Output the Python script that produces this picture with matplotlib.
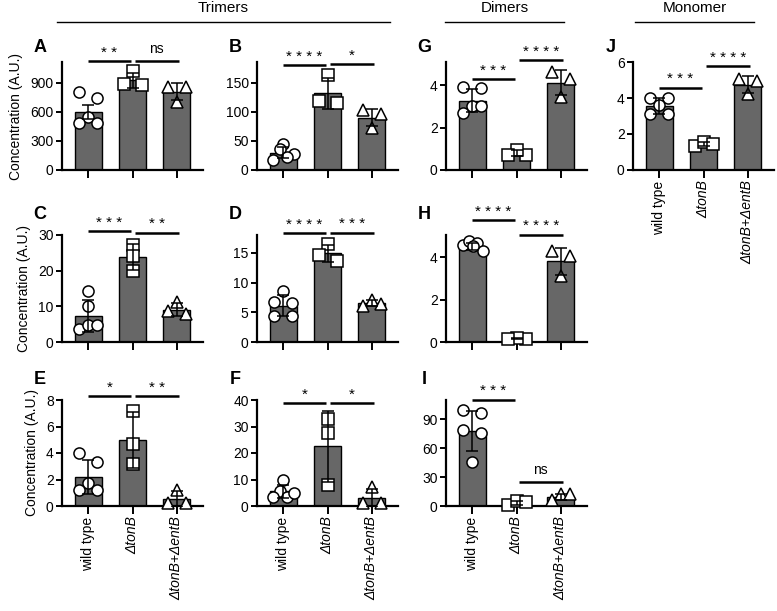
import numpy as np
import matplotlib
matplotlib.use('Agg')
import matplotlib.pyplot as plt
from matplotlib.lines import Line2D

plt.rcParams['font.family'] = ['Liberation Sans', 'DejaVu Sans']

W, H = 777, 611

strains = ['wild type', 'ΔtonB', 'ΔtonB+ΔentB']

# ---- Trimers ----
A_means = [600, 925, 810]
A_err = [75, 75, 85]
A_wt = [810, 740, 550, 483, 483]
A_tonb = [1020, 890, 880]
A_double = [855, 855, 706]
A_sig = [(0, 1, 1127, '**'), (1, 2, 1127, 'ns')]

B_means = [30, 132, 90]
B_err = [10, 27, 15]
B_wt = [45, 36, 28, 18, 22]
B_tonb = [163, 118, 116]
B_double = [103, 96, 73]
B_sig = [(0, 1, 181, '****'), (1, 2, 182, '*')]

C_means = [7.4, 23.8, 9.1]
C_err = [4.5, 3.7, 1.8]
C_wt = [14.3, 10.0, 3.6, 4.8, 4.8]
C_tonb = [27.3, 24.1, 20.0]
C_double = [11.2, 7.8, 8.6]
C_sig = [(0, 1, 31.0, '***'), (1, 2, 30.7, '**')]

D_means = [6.1, 14.9, 6.5]
D_err = [1.8, 1.4, 0.5]
D_wt = [8.6, 6.6, 6.8, 4.3, 4.3]
D_tonb = [16.5, 13.7, 14.7]
D_double = [6.1, 7.0, 6.4]
D_sig = [(0, 1, 18.3, '****'), (1, 2, 18.4, '***')]

E_means = [2.2, 5.0, 0.55]
E_err = [1.3, 2.1, 0.6]
E_wt = [4.0, 3.35, 1.7, 1.2, 1.2]
E_tonb = [7.2, 4.7, 3.2]
E_double = [1.2, 0.2, 0.2]
E_sig = [(0, 1, 8.3, '*'), (1, 2, 8.3, '**')]

F_means = [5.5, 22.5, 3.0]
F_err = [2.6, 13.3, 3.5]
F_wt = [9.8, 5.8, 3.3, 3.5, 4.8]
F_tonb = [33.0, 27.4, 7.9]
F_double = [7.0, 1.0, 1.0]
F_sig = [(0, 1, 38.8, '*'), (1, 2, 38.8, '*')]

# ---- Dimers ----
G_means = [3.27, 0.8, 4.12]
G_err = [0.55, 0.13, 0.6]
G_wt = [3.9, 3.85, 2.7, 3.0, 3.0]
G_tonb = [0.72, 0.95, 0.72]
G_double = [4.65, 4.3, 3.45]
G_sig = [(0, 1, 4.31, '***'), (1, 2, 5.18, '****')]

H_means = [4.5, 0.16, 3.8]
H_err = [0.17, 0.02, 0.62]
H_wt = [4.6, 4.75, 4.65, 4.3, 4.55]
H_tonb = [0.15, 0.18, 0.15]
H_double = [4.3, 4.05, 3.1]
H_sig = [(0, 1, 5.74, '****'), (1, 2, 5.07, '****')]

I_means = [78, 3, 9]
I_err = [21, 2, 3]
I_wt = [100, 97, 79, 76, 46]
I_tonb = [1, 5, 4]
I_double = [6, 12.5, 12]
I_sig = [(0, 1, 110.5, '***'), (1, 2, 24.9, 'ns')]

# ---- Monomer ----
J_means = [3.56, 1.46, 4.73]
J_err = [0.45, 0.12, 0.47]
J_wt = [4.0, 4.0, 3.6, 3.1, 3.1]
J_tonb = [1.35, 1.58, 1.45]
J_double = [5.05, 4.95, 4.2]
J_sig = [(0, 1, 4.58, '***'), (1, 2, 5.79, '****')]

panels = {
    'A': dict(m=A_means, e=A_err, p=[A_wt, A_tonb, A_double], sig=A_sig, ylim=1115, ticks=[0, 300, 600, 900]),
    'B': dict(m=B_means, e=B_err, p=[B_wt, B_tonb, B_double], sig=B_sig, ylim=186, ticks=[0, 50, 100, 150]),
    'C': dict(m=C_means, e=C_err, p=[C_wt, C_tonb, C_double], sig=C_sig, ylim=30, ticks=[0, 10, 20, 30]),
    'D': dict(m=D_means, e=D_err, p=[D_wt, D_tonb, D_double], sig=D_sig, ylim=18, ticks=[0, 5, 10, 15]),
    'E': dict(m=E_means, e=E_err, p=[E_wt, E_tonb, E_double], sig=E_sig, ylim=8, ticks=[0, 2, 4, 6, 8]),
    'F': dict(m=F_means, e=F_err, p=[F_wt, F_tonb, F_double], sig=F_sig, ylim=40, ticks=[0, 10, 20, 30, 40]),
    'G': dict(m=G_means, e=G_err, p=[G_wt, G_tonb, G_double], sig=G_sig, ylim=5.1, ticks=[0, 2, 4]),
    'H': dict(m=H_means, e=H_err, p=[H_wt, H_tonb, H_double], sig=H_sig, ylim=5.05, ticks=[0, 2, 4]),
    'I': dict(m=I_means, e=I_err, p=[I_wt, I_tonb, I_double], sig=I_sig, ylim=110, ticks=[0, 30, 60, 90]),
    'J': dict(m=J_means, e=J_err, p=[J_wt, J_tonb, J_double], sig=J_sig, ylim=6, ticks=[0, 2, 4, 6]),
}

# grid position (row, col), in pixels
col_left = [62, 257, 446, 633]
row_top = [62, 235, 400]
row_h = [108, 107, 106]
ax_w = 141
layout = {'A': (0, 0), 'B': (0, 1), 'G': (0, 2), 'J': (0, 3),
          'C': (1, 0), 'D': (1, 1), 'H': (1, 2),
          'E': (2, 0), 'F': (2, 1), 'I': (2, 2)}
labelled = ['E', 'F', 'I', 'J']
markers = ['o', 's', '^']
bar_col = '#676767'

# horizontal slots (px) for points that share a "row", highest value first
slots = {1: [0], 2: [-9, 9], 3: [0, 9, -9], 4: [-3.5, 10.5, 3.5, -10.5], 5: [-3, 5, -9, 1, 11]}


def spread(ax, xc, vals, row_px=11):
    # group points of similar height into rows and spread them sideways
    ypx = [ax.transData.transform((0, v))[1] for v in vals]
    pxu = ax.transData.transform((1, 0))[0] - ax.transData.transform((0, 0))[0]
    order = list(np.argsort(ypx, kind='stable'))
    rows, cur = [], [order[0]]
    for k in order[1:]:
        if ypx[k] - ypx[cur[0]] < row_px:
            cur.append(k)
        else:
            rows.append(cur)
            cur = [k]
    rows.append(cur)
    xs = [float(xc)] * len(vals)
    for row in rows:
        row = sorted(row, key=lambda k: -ypx[k])
        for k, s in zip(row, slots[len(row)]):
            xs[k] = xc + s / pxu
    return xs


fig = plt.figure(figsize=(W / 100, H / 100), dpi=100)

for name, pnl in panels.items():
    r, c = layout[name]
    left, top, h = col_left[c], row_top[r], row_h[r]
    ax = fig.add_axes([left / W, 1 - (top + h) / H, ax_w / W, h / H])
    x = np.arange(3)

    ax.bar(x, pnl['m'], width=0.62, color=bar_col, edgecolor='black', linewidth=1.0, zorder=2)
    ax.set_xlim(-0.6, 2.6)
    ax.set_ylim(0, pnl['ylim'])
    ax.set_yticks(pnl['ticks'])

    for i, vals in enumerate(pnl['p']):
        xs = spread(ax, i, vals)
        ax.plot(xs, vals, linestyle='none', marker=markers[i], ms=8 if i < 2 else 9,
                mfc='white', mec='black', mew=1.1, zorder=3, clip_on=False)
    ax.errorbar(x, pnl['m'], yerr=pnl['e'], fmt='none', ecolor='black',
                elinewidth=1.1, capsize=4, capthick=1.1, zorder=4)

    # significance bars
    for i, j, y, lab in pnl['sig']:
        xa = i + (0.05 if i > 0 else -0.02)
        xb = j + (0.05 if j == 2 else -0.03)
        ax.add_line(Line2D([xa, xb], [y, y], color='black', lw=1.8,
                           solid_capstyle='butt', clip_on=False))
        if lab == 'ns':
            ax.annotate(lab, xy=((xa + xb) / 2, y), xytext=(0, 6), textcoords='offset points',
                        ha='center', va='baseline', fontsize=10, annotation_clip=False)
        else:
            ax.annotate(' '.join(lab), xy=((xa + xb) / 2, y), xytext=(0, 3), textcoords='offset points',
                        ha='center', va='baseline', fontsize=11, annotation_clip=False)

    for s in ['top', 'right']:
        ax.spines[s].set_visible(False)
    for s in ['left', 'bottom']:
        ax.spines[s].set_linewidth(1.6)
    ax.tick_params(axis='y', length=4, width=1.4, labelsize=10, pad=2)
    ax.tick_params(axis='x', length=5.5, width=1.4, labelsize=10, pad=2)
    ax.set_xticks(x)
    if name in labelled:
        ax.set_xticklabels(strains, rotation=90)
        for lbl in ax.get_xticklabels()[1:]:
            lbl.set_fontstyle('italic')
    else:
        ax.set_xticklabels([])
    if c == 0:
        ax.set_ylabel('Concentration (A.U.)', fontsize=10, labelpad=5)

    # panel letter
    dy = 15 if r == 0 else 20
    fig.text((left - 22) / W, 1 - (top - dy) / H, name, fontsize=13, fontweight='bold',
             ha='center', va='center')

# group headers
for txt, x0, x1 in [('Trimers', 57, 390), ('Dimers', 445, 564), ('Monomer', 635, 754)]:
    fig.add_artist(Line2D([x0 / W, x1 / W], [1 - 22 / H, 1 - 22 / H], color='black', lw=1.0))
    fig.text((x0 + x1) / 2 / W, 1 - 8.5 / H, txt, fontsize=11, ha='center', va='center')

fig.savefig('out.png', dpi=100)
